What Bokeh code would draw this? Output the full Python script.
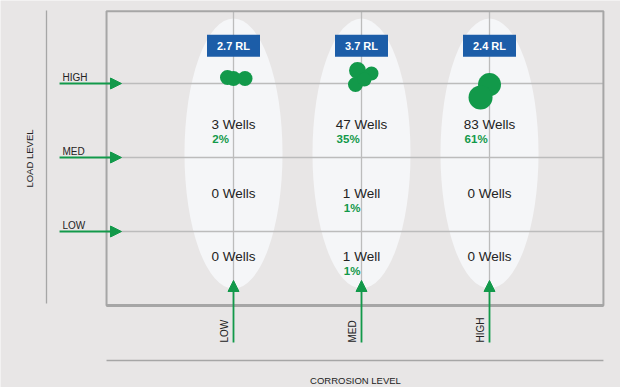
import math
from bokeh.plotting import figure
from bokeh.models import ColumnDataSource, Arrow, NormalHead
from bokeh.embed import file_html
from bokeh.resources import INLINE
from bokeh.core.properties import value

# ---------------- data ----------------
corrosion_levels = ["LOW", "MED", "HIGH"]
load_levels = ["LOW", "MED", "HIGH"]
wells_low_load = [0, 1, 0]
wells_med_load = [0, 1, 0]
wells_high_load = [3, 47, 83]
rl_values = [2.7, 3.7, 2.4]
# individual well-cluster markers (corrosion pos, load pos, marker diameter)
cluster_x = [0.953, 1.0, 1.09, 1.969, 2.078, 1.953, 2.023, 3.0, 2.93]
cluster_y = [3.081, 3.068, 3.068, 3.176, 3.135, 2.986, 3.054, 2.986, 2.811]
cluster_size = [15, 15, 15, 17, 14, 15, 14, 23, 24]

# ---------------- style ----------------
BG = "#e8e6e6"
ELL = "#f5f6f8"
GRID = "#bcbcbc"
FRAME = "#a6a6a6"
GREEN = "#12994a"
BLUE = "#1c5da8"
TXT = "#232323"
FONT = value("Liberation Sans")

p = figure(width=620, height=387, x_range=(-0.8203, 4.0234), y_range=(-1.108, 4.1216),
           output_backend="svg", toolbar_location=None, min_border=0,
           x_axis_type=None, y_axis_type=None,
           background_fill_color=BG, border_fill_color=BG, outline_line_color=None)
p.grid.visible = False

xc = [i + 1 for i in range(len(corrosion_levels))]
yl = [i + 1 for i in range(len(load_levels))]
x_left, x_right, y_bot, y_top = 0.008, 3.89, 0.0, 3.977

# ellipses
p.ellipse(x=xc, y=[2.054] * 3, width=[0.766] * 3, height=[3.65] * 3,
          fill_color=ELL, line_color=None)

# grid lines
p.segment(x0=xc, y0=[y_bot] * 3, x1=xc, y1=[y_top] * 3, line_color=GRID, line_width=1.3)
p.segment(x0=[x_left] * 3, y0=yl, x1=[x_right] * 3, y1=yl, line_color=GRID, line_width=1.3)

# frame
p.quad(left=[x_left], right=[x_right], bottom=[y_bot], top=[y_top],
       fill_color=None, line_color=FRAME, line_width=2)
p.segment(x0=[x_left], y0=[y_bot], x1=[x_right], y1=[y_bot], line_color=FRAME, line_width=3)

# outer axis lines
p.segment(x0=[-0.461], y0=[0.027], x1=[-0.461], y1=[3.986], line_color=FRAME, line_width=1.3)
p.segment(x0=[x_left], y0=[-0.743], x1=[x_right], y1=[-0.743], line_color=FRAME, line_width=1.3)

# RL boxes
p.rect(x=xc, y=[3.51] * 3, width=[0.414] * 3, height=[0.297] * 3,
       fill_color=BLUE, line_color=None)
p.text(x=xc, y=[3.51] * 3, text=[f"{v} RL" for v in rl_values],
       text_color="white", text_font=FONT, text_font_style="bold", text_font_size="11px",
       text_align="center", text_baseline="middle")

# clusters
p.scatter(x=cluster_x, y=cluster_y, size=cluster_size, fill_color=GREEN, line_color=None)

# cell texts
grid_counts = [wells_low_load, wells_med_load, wells_high_load]
total = sum(sum(r) for r in grid_counts)
row_text_y = [0.662, 1.514, 2.446]
CW = {"0": .556, "1": .556, "2": .556, "3": .556, "4": .556, "5": .556, "6": .556,
      "7": .556, "8": .556, "9": .556, " ": .278, "W": .944, "e": .556, "l": .222, "s": .5}

wx, wy, wt, px, py, pt, poff = [], [], [], [], [], [], []
for ri, row in enumerate(grid_counts):
    for ci, c in enumerate(row):
        label = f"{c} Well" if c == 1 else f"{c} Wells"
        wx.append(xc[ci]); wy.append(row_text_y[ri]); wt.append(label)
        if c > 0:
            w = sum(CW.get(ch, .55) for ch in label) * 13.5
            px.append(xc[ci]); py.append(row_text_y[ri] - 0.19)
            pt.append(f"{round(100 * c / total)}%"); poff.append(-w / 2 + 1)

p.text(x=wx, y=wy, text=wt, text_color=TXT, text_font=FONT, text_font_size="13.5px",
       text_align="center", text_baseline="middle")
p.text(x=px, y=py, text=pt, x_offset=poff, text_color=GREEN, text_font=FONT,
       text_font_style="bold", text_font_size="11.5px", text_align="left", text_baseline="middle")

# arrows: load levels
src_h = ColumnDataSource(dict(x0=[-0.359] * 3, x1=[0.125] * 3, y0=yl, y1=yl))
p.add_layout(Arrow(end=NormalHead(size=11, fill_color=GREEN, line_color=GREEN, line_width=1),
                   x_start="x0", y_start="y0", x_end="x1", y_end="y1",
                   line_color=GREEN, line_width=1.8, source=src_h))
src_v = ColumnDataSource(dict(x0=xc, x1=xc, y0=[-0.5] * 3, y1=[0.338] * 3))
p.add_layout(Arrow(end=NormalHead(size=11, fill_color=GREEN, line_color=GREEN, line_width=1),
                   x_start="x0", y_start="y0", x_end="x1", y_end="y1",
                   line_color=GREEN, line_width=1.8, source=src_v))

# level labels
p.text(x=[-0.336] * 3, y=[v + 0.081 for v in yl], text=load_levels, text_color=TXT,
       text_font=FONT, text_font_size="10px", text_align="left", text_baseline="alphabetic")
p.text(x=xc, y=[-0.5] * 3, text=corrosion_levels, x_offset=[-4] * 3, angle=math.pi / 2,
       text_color=TXT, text_font=FONT, text_font_size="10px",
       text_align="left", text_baseline="bottom")

# axis titles
p.text(x=[-0.594], y=[1.986], text=["LOAD LEVEL"], angle=math.pi / 2, text_color=TXT,
       text_font=FONT, text_font_size="9.5px", text_align="center", text_baseline="middle")
p.text(x=[1.953], y=[-1.0135], text=["CORROSION LEVEL"], text_color=TXT,
       text_font=FONT, text_font_size="9.5px", text_align="center", text_baseline="alphabetic")

open("out.html", "w").write(file_html(p, INLINE))
